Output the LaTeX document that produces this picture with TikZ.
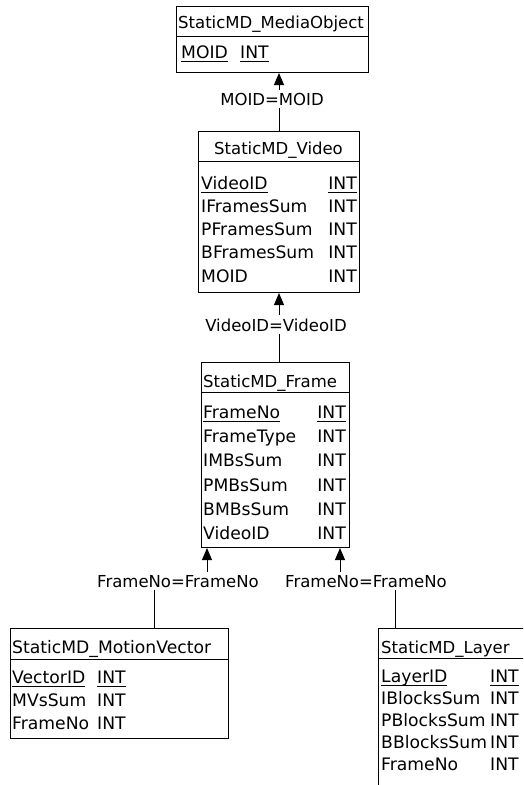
\documentclass[tikz,border=0pt]{standalone}
\usepackage{fontspec}
\newfontfamily\dbfamily{DejaVu Sans}
\newcommand\dbfont{\dbfamily\fontsize{16.5pt}{19pt}\selectfont}
\newcommand\dbfieldfont{\dbfamily\fontsize{17.2pt}{19pt}\selectfont}
\newcommand\ulx[1]{\setbox0\hbox{#1}\rlap{\rule[-4pt]{\wd0}{1pt}}\box0}
\usetikzlibrary{arrows.meta}
\begin{document}
\begin{tikzpicture}[x=1pt,y=-1pt,
 tbl/.style={draw=black, line width=1pt, inner sep=0pt, anchor=north west},
 sepline/.style={draw=black, line width=1pt},
 ttl/.style={font=\dbfont, inner sep=0pt, anchor=base west},
 ttlc/.style={font=\dbfont, inner sep=0pt, anchor=base},
 fld/.style={font=\dbfieldfont, inner sep=0pt, anchor=base west},
 typ/.style={font=\dbfieldfont, inner sep=0pt, anchor=base east},
 typw/.style={font=\dbfieldfont, inner sep=0pt, anchor=base west},
 rel/.style={font=\dbfont, inner xsep=0pt, inner ysep=3pt, anchor=base},
 conn/.style={draw=black, line width=1pt},
 arr/.style={conn, -{Triangle[width=10pt,length=12pt]}},
]
\useasboundingbox (0,0) rectangle (523,785);
\fill[white] (0,0) rectangle (523,785);
\clip (0,0) rectangle (523,785);

% StaticMD_MediaObject
\node[tbl, minimum width=192pt, minimum height=66pt] (mo) at (176,6) {};
\draw[sepline] ([yshift=-30pt]mo.north west) -- ([yshift=-30pt]mo.north east);
\node[ttl] (moT) at (178,28) {StaticMD\_MediaObject};
\node[fld] (moF1) at (181,58) {\ulx{MOID}};
\node[typw] (moY1) at (240,58) {\ulx{INT}};

% StaticMD_Video
\node[tbl, minimum width=161pt, minimum height=161pt] (vid) at (198,131) {};
\draw[sepline] ([yshift=-30.5pt]vid.north west) -- ([yshift=-30.5pt]vid.north east);
\node[ttlc] (vidT) at (278.5,154) {StaticMD\_Video};
\node[fld] (vidF1) at (201,189) {\ulx{VideoID}};
\node[fld] (vidF2) at (201,212) {IFramesSum};
\node[fld] (vidF3) at (201,235) {PFramesSum};
\node[fld] (vidF4) at (201,258.5) {BFramesSum};
\node[fld] (vidF5) at (201,282) {MOID};
\node[typ] (vidY1) at (357,189) {\ulx{INT}};
\node[typ] (vidY2) at (357,212) {INT};
\node[typ] (vidY3) at (357,235) {INT};
\node[typ] (vidY4) at (357,258.5) {INT};
\node[typ] (vidY5) at (357,282) {INT};

% StaticMD_Frame
\node[tbl, minimum width=148pt, minimum height=185pt] (fr) at (201,362) {};
\draw[sepline] ([yshift=-30pt]fr.north west) -- ([yshift=-30pt]fr.north east);
\node[ttl] (frT) at (203,387) {StaticMD\_Frame};
\node[fld] (frF1) at (203,418) {\ulx{FrameNo}};
\node[fld] (frF2) at (203,442) {FrameType};
\node[fld] (frF3) at (203,466) {IMBsSum};
\node[fld] (frF4) at (203,491) {PMBsSum};
\node[fld] (frF5) at (203,515) {BMBsSum};
\node[fld] (frF6) at (203,539) {VideoID};
\node[typ] (frY1) at (346,418) {\ulx{INT}};
\node[typ] (frY2) at (346,442) {INT};
\node[typ] (frY3) at (346,466) {INT};
\node[typ] (frY4) at (346,491) {INT};
\node[typ] (frY5) at (346,515) {INT};
\node[typ] (frY6) at (346,539) {INT};

% StaticMD_MotionVector
\node[tbl, minimum width=218pt, minimum height=110pt] (mv) at (10,628) {};
\draw[sepline] ([yshift=-31pt]mv.north west) -- ([yshift=-31pt]mv.north east);
\node[ttl, font=\dbfieldfont] (mvT) at (12,653) {StaticMD\_MotionVector};
\node[fld] (mvF1) at (12,683) {\ulx{VectorID}};
\node[fld] (mvF2) at (12,706) {MVsSum};
\node[fld] (mvF3) at (12,729) {FrameNo};
\node[typw] (mvY1) at (97,683) {\ulx{INT}};
\node[typw] (mvY2) at (97,706) {INT};
\node[typw] (mvY3) at (97,729) {INT};

% StaticMD_Layer
\node[tbl, minimum width=170pt, minimum height=180pt] (ly) at (378,628) {};
\draw[sepline] ([yshift=-30pt]ly.north west) -- ([yshift=-30pt]ly.north east);
\node[ttl] (lyT) at (381,653) {StaticMD\_Layer};
\node[fld] (lyF1) at (381,682) {\ulx{LayerID}};
\node[fld] (lyF2) at (381,704) {IBlocksSum};
\node[fld] (lyF3) at (381,726) {PBlocksSum};
\node[fld] (lyF4) at (381,748) {BBlocksSum};
\node[fld] (lyF5) at (381,770) {FrameNo};
\node[typw] (lyY1) at (490,682) {\ulx{INT}};
\node[typw] (lyY2) at (490,704) {INT};
\node[typw] (lyY3) at (490,726) {INT};
\node[typw] (lyY4) at (490,748) {INT};
\node[typw] (lyY5) at (490,770) {INT};

% relationship labels
\node[rel] (l1) at (272,105) {MOID=MOID};
\node[rel] (l2) at (276,331) {VideoID=VideoID};
\node[rel] (l3) at (178,587) {FrameNo=FrameNo};
\node[rel] (l4) at (366,587) {FrameNo=FrameNo};

% connectors
\draw[arr] (l1.north -| vid.north) -- (mo.south -| vid.north);
\draw[conn] (l1.south -| vid.north) -- (vid.north);
\draw[arr] (l2.north -| vid.south) -- (vid.south);
\draw[conn] (l2.south -| vid.south) -- (fr.north -| vid.south);
\coordinate (fa) at ([xshift=6pt]fr.south west);
\coordinate (fb) at ([xshift=-10pt]fr.south east);
\coordinate (mvt) at ([xshift=144pt]mv.north west);
\coordinate (lyt) at ([xshift=17pt]ly.north west);
\draw[arr] (l3.north -| fa) -- (fa);
\draw[arr] (l4.north -| fb) -- (fb);
\draw[conn] (l3.south -| mvt) -- (mvt);
\draw[conn] (l4.south -| lyt) -- (lyt);
\end{tikzpicture}
\end{document}
